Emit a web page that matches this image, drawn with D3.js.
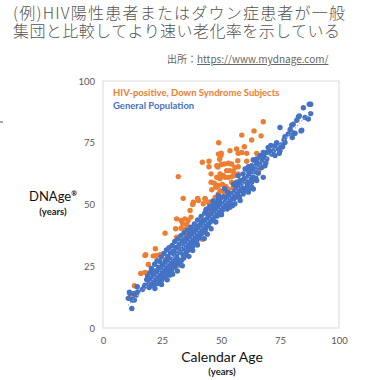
<!DOCTYPE html>
<html>
<head>
<meta charset="utf-8">
<script src="https://cdn.jsdelivr.net/npm/d3@7"></script>
<style>
  body { margin: 0; background: #fff; }
  svg { display: block; }
</style>
</head>
<body>
<div id="chart"></div>
<script>
// Title lines and source note
const titleLines = ["(例)HIV陽性患者またはダウン症患者が一般", "集団と比較してより速い老化率を示している"];
const titleWidths = [332, 327];
const sourceLabel = "出所：";
const sourceUrl = "https://www.mydnage.com/";

// Axis ticks
const xTicks = [0, 25, 50, 75, 100];
const yTicks = [0, 25, 50, 75, 100];

// Series names
const seriesNames = ["HIV-positive, Down Syndrome Subjects", "General Population"];

// [calendar age, DNAge]
const hivDown = [
  [67.9,83.5],[58.8,78.1],[64.0,79.8],[67.0,77.8],[63.0,76.1],[49.0,75.0],[53.8,71.8],[56.6,72.5],[59.9,73.4],
  [48.9,70.4],[50.0,69.8],[57.3,70.7],[58.8,71.1],[60.9,70.7],[65.1,70.7],[50.1,70.8],
  [42.1,67.1],[44.9,67.5],[44.9,65.3],[48.2,65.7],[49.4,68.3],[51.4,66.4],[53.1,66.7],[54.5,66.4],[55.9,65.0],
  [57.3,65.3],[60.9,67.5],[57.1,67.7],[63.7,68.1],[48.7,65.2],[50.1,66.2],
  [52.4,63.7],[53.8,63.7],[55.2,63.4],[49.6,62.4],[51.0,61.7],[45.8,62.4],[64.4,63.7],[66.1,64.0],[62.3,63.0],
  [48.2,61.0],[49.6,60.4],[51.7,61.0],[53.1,61.0],[54.5,61.3],[55.9,61.7],[57.3,62.4],
  [45.8,59.0],[47.2,58.6],[48.9,57.7],[50.6,58.1],[52.0,57.3],[54.5,59.0],[58.8,59.0],
  [49.6,55.6],[51.4,55.0],[53.1,56.3],[55.2,56.7],[56.6,57.7],[46.1,56.0],[47.8,57.0],[55.2,54.0],
  [48.9,54.3],[50.3,52.9],[48.2,50.9],[43.2,52.3],[44.6,50.9],[40.4,51.6],[38.3,50.9],[34.0,52.5],[40.1,52.4],
  [43.3,52.3],[45.3,50.9],[42.5,50.3],[47.5,52.9],[38.0,50.0],
  [36.9,47.6],[37.3,44.9],[36.1,43.5],[43.5,47.6],[43.9,46.9],[44.6,48.0],
  [31.2,44.2],[33.1,43.5],[34.7,44.2],[33.8,42.2],[35.5,41.8],[30.8,40.2],[33.1,40.4],[34.7,39.9],[26.3,38.4],
  [35.5,37.2],[31.2,36.8],[42.5,39.1],[42.1,35.9],[42.9,38.8],[37.6,40.2],
  [22.2,32.1],[17.8,29.4],[18.1,29.7],[21.3,29.2],[22.7,29.4],[24.2,29.7],[27.0,28.3],[19.2,25.7],[31.9,25.4],
  [28.8,24.3],[17.8,22.5],[16.0,22.1],[22.7,18.7],[13.3,17.1],[12.0,12.8],[31.9,61.3]
];

const generalPop = [
  [12.2,7.9],[10.7,12.0],[11.2,14.5],[12.4,11.3],[13.3,11.3],[13.1,14.0],[11.4,14.0],[12.8,11.6],[14.0,13.3],
  [14.7,14.6],[14.5,16.7],[16.7,15.6],[17.5,16.7],[17.8,17.3],[18.5,19.6],[20.2,20.0],[19.5,18.2],[22.0,16.0],
  [23.4,18.7],[24.8,17.6],[20.6,17.3],[21.3,19.4],[22.7,20.7],[23.4,18.0],[24.2,22.1],[24.9,19.4],[25.6,23.4],
  [26.3,20.7],[27.0,24.7],[27.7,22.1],[28.4,26.1],[29.1,23.4],[29.8,27.4],[30.5,24.7],[31.2,28.8],[31.9,26.1],
  [32.6,30.8],[33.3,27.4],[34.0,32.1],[34.7,29.4],[35.5,34.2],[36.1,31.5],[36.9,35.5],[37.6,32.8],[38.3,36.8],
  [39.7,34.8],[39.0,38.8],[41.1,37.5],[40.4,40.9],[42.5,39.5],[41.8,42.9],[44.6,41.5],[43.9,44.2],[46.7,44.2],
  [46.0,45.6],[48.2,47.6],[46.7,49.6],[48.9,52.3],
  [19.8,22.4],[20.5,24.1],[21.2,21.6],[21.9,25.8],[22.4,23.1],[22.9,27.2],[23.6,24.6],[24.1,26.9],[24.7,28.8],
  [25.2,25.4],[25.8,30.2],[26.4,27.3],[26.9,31.6],[27.5,29.0],[28.0,32.5],[28.6,30.4],[29.3,33.4],[29.9,31.2],
  [30.4,35.0],[31.0,32.6],[31.7,36.1],[32.3,33.9],[33.0,37.4],[33.6,35.3],[34.3,38.5],[35.0,36.4],[35.8,39.6],
  [36.5,37.9],[37.2,40.8],[37.9,38.9],[38.7,42.1],[39.4,40.2],[40.1,43.7],[40.9,41.6],[41.6,45.2],[42.3,43.5],
  [43.1,46.5],[43.8,48.1],[44.5,46.0],[45.2,49.3],[45.9,47.8],[46.6,51.4],[47.4,49.0],[48.1,50.6],[48.8,53.7],
  [49.5,50.9],
  [25.1,20.3],[26.0,22.8],[27.2,19.5],[28.1,23.9],[29.5,21.8],[30.2,25.9],[31.5,23.1],[32.1,27.6],[33.6,25.2],
  [34.2,28.3],[35.3,31.0],[36.4,29.0],[37.0,33.9],[38.0,31.4],[38.8,35.2],[40.0,33.6],[40.8,36.4],[41.5,39.0],
  [42.9,36.2],[43.4,40.4],[44.2,38.0],[45.3,42.8],[45.8,40.2],[46.3,43.5],[47.0,45.6],[47.8,42.9],[48.6,46.1],
  [49.3,48.4],[50.2,45.9],
  [18.9,21.0],[19.6,16.4],[20.9,18.6],[21.6,23.0],[22.3,18.0],[23.0,22.6],[23.8,20.4],[24.5,24.2],[25.4,21.9],
  [26.1,25.9],[26.7,23.0],[27.4,27.1],[28.2,21.4],[28.8,27.9],[29.6,25.2],[30.3,29.8],[30.9,27.4],[31.6,30.4],
  [32.4,25.9],[32.9,31.9],[33.9,29.6],[34.5,33.6],[35.1,30.1],[35.7,35.2],[36.2,33.0],[36.8,37.1],[37.5,34.6],
  [38.1,33.2],[38.6,38.0],[39.2,36.4],[39.8,39.4],[40.5,37.3],[41.2,41.0],[41.9,38.3],[42.6,41.9],[43.3,39.2],
  [44.0,42.6],[44.7,44.8],[45.5,43.3],[46.2,46.2],[46.9,48.0],[47.6,47.1],[48.4,45.3],[49.1,49.9],[49.8,52.5],
  [50.5,47.6],[51.2,49.0],[51.9,52.8],[52.6,48.2],[53.4,50.3],[54.1,53.3],[54.9,49.6],[55.6,52.4],[56.4,57.3],
  [57.0,55.1],[57.8,52.8],[58.5,58.4],[59.1,56.6],[59.8,60.5],[60.5,55.9],[61.2,58.3],[62.0,62.6],[62.7,59.9],
  [64.1,63.2],[64.8,60.6],[65.8,62.7],[66.3,66.3],[67.6,67.8],[68.2,69.6],[69.0,66.8],[70.6,71.5],[71.1,73.9],
  [73.6,75.0],[74.7,70.7],
  [48.9,51.6],[48.2,49.6],[50.3,48.9],[49.6,46.9],[51.7,50.9],[53.1,53.6],[54.5,52.3],[55.9,50.3],[53.8,48.9],
  [58.1,51.6],[57.3,57.7],[58.8,56.3],[55.9,55.6],[59.4,54.3],[61.6,55.6],[63.7,56.3],[57.3,53.6],[61.6,55.0],
  [58.8,55.6],[51.0,53.2],[52.2,49.6],[52.8,55.0],[53.9,51.0],[54.7,54.6],[55.3,58.2],[56.2,53.1],[56.9,56.7],
  [50.6,50.0],[51.5,56.4],[52.5,52.1],
  [57.3,61.7],[56.6,59.0],[58.1,57.7],[60.2,59.7],[60.9,57.0],[63.0,57.0],[61.6,63.7],[59.4,62.4],[62.3,61.7],
  [63.7,61.0],[60.2,60.4],[58.1,59.7],[60.9,59.0],[63.0,59.0],[65.1,59.7],[60.2,64.4],[61.6,61.7],[63.0,60.4],
  [67.9,61.0],[61.6,65.3],[63.0,64.4],
  [66.5,69.8],[65.1,67.7],[63.0,65.7],[64.4,64.4],[66.5,65.0],[65.1,68.4],[63.7,68.0],[69.4,68.4],[65.1,66.4],
  [67.2,65.0],[68.6,65.7],[66.9,69.1],[67.9,71.1],[69.4,71.1],[70.0,73.1],[71.5,70.4],[72.9,69.8],[72.9,73.8],
  [74.3,72.5],[72.2,71.8],
  [75.0,81.2],[77.1,75.1],[75.4,74.1],[76.1,73.4],[75.0,71.8],[76.7,76.1],[77.1,77.4],[80.2,77.1],[83.9,79.8],
  [80.0,82.1],[80.6,82.5],[82.1,84.1],[83.2,85.9],[87.0,84.6],[88.0,86.8],[84.9,89.2],[88.0,90.6],[82.8,85.5],
  [80.4,79.2],[84.2,80.1],[81.4,78.8],[78.5,78.6],[79.3,80.4],[85.6,85.2],[87.4,90.6]
];

const width = 376, height = 380;
const orange = "#ED7D31", blue = "#4472C4";
const font = "Lato, 'Open Sans', sans-serif";

const svg = d3.select("#chart").append("svg")
    .attr("width", width)
    .attr("height", height);

// title
svg.selectAll(".title")
    .data(titleLines)
    .enter()
    .append("text")
    .attr("x", 13)
    .attr("y", (d, i) => 18.5 + i * 18)
    .attr("textLength", (d, i) => titleWidths[i])
    .attr("lengthAdjust", "spacing")
    .style("font-family", "'Noto Sans CJK JP', sans-serif")
    .style("font-weight", 300)
    .style("font-size", "16px")
    .attr("fill", "#555")
    .text(d => d);

const src = svg.append("text")
    .attr("x", 167)
    .attr("y", 63)
    .style("font-family", "'Noto Sans CJK JP', sans-serif")
    .style("font-size", "10px")
    .attr("fill", "#666");
src.append("tspan").text(sourceLabel);
src.append("tspan").style("text-decoration", "underline").text(sourceUrl);

// stray mark at the left edge
svg.append("line")
    .attr("x1", 0).attr("x2", 3)
    .attr("y1", 122).attr("y2", 122)
    .attr("stroke", "#555");

// scales
const x = d3.scaleLinear().domain([0, 100]).range([103, 339]);
const y = d3.scaleLinear().domain([0, 100]).range([328, 81]);

// plot frame
svg.append("rect")
    .attr("x", x(0))
    .attr("y", y(100))
    .attr("width", x(100) - x(0))
    .attr("height", y(0) - y(100))
    .attr("fill", "none")
    .attr("stroke", "#d9d9d9");

// axes (labels only)
const xAxis = svg.append("g")
    .attr("transform", `translate(0, ${y(0)})`)
    .call(d3.axisBottom(x).tickValues(xTicks).tickSize(0).tickPadding(9));
const yAxis = svg.append("g")
    .attr("transform", `translate(${x(0)}, 0)`)
    .call(d3.axisLeft(y).tickValues(yTicks).tickSize(0).tickPadding(8));
[xAxis, yAxis].forEach(g => {
    g.select(".domain").remove();
    g.selectAll("text")
        .style("font-family", font)
        .style("font-size", "9.5px")
        .attr("fill", "#595959");
});

// dotted trend line through the general population
const mx = d3.mean(generalPop, d => d[0]);
const my = d3.mean(generalPop, d => d[1]);
const slope = d3.sum(generalPop, d => (d[0] - mx) * (d[1] - my)) / d3.sum(generalPop, d => (d[0] - mx) ** 2);
const icpt = my - slope * mx;
const xr = d3.extent(generalPop, d => d[0]);

// points
svg.append("g")
    .selectAll("circle")
    .data(hivDown)
    .enter()
    .append("circle")
    .attr("cx", d => x(d[0]))
    .attr("cy", d => y(d[1]))
    .attr("r", 2.7)
    .attr("fill", orange);

svg.append("g")
    .selectAll("circle")
    .data(generalPop)
    .enter()
    .append("circle")
    .attr("cx", d => x(d[0]))
    .attr("cy", d => y(d[1]))
    .attr("r", 2.7)
    .attr("fill", blue);

svg.append("line")
    .attr("x1", x(xr[0])).attr("y1", y(icpt + slope * xr[0]))
    .attr("x2", x(xr[1])).attr("y2", y(icpt + slope * xr[1]))
    .attr("stroke", "#8FAADC")
    .attr("stroke-width", 1.2)
    .attr("stroke-dasharray", "1.2,2");

// legend
svg.selectAll(".legend")
    .data(seriesNames)
    .enter()
    .append("text")
    .attr("x", 113)
    .attr("y", (d, i) => 96 + i * 12.5)
    .style("font-family", font)
    .style("font-weight", "bold")
    .style("font-size", "9.5px")
    .attr("fill", (d, i) => i === 0 ? orange : blue)
    .text(d => d);

// axis titles
svg.append("text")
    .attr("x", 222).attr("y", 362)
    .attr("text-anchor", "middle")
    .style("font-family", font)
    .style("font-size", "14px")
    .attr("fill", "#111")
    .text("Calendar Age");
svg.append("text")
    .attr("x", 222).attr("y", 375)
    .attr("text-anchor", "middle")
    .style("font-family", font)
    .style("font-weight", "bold")
    .style("font-size", "9.5px")
    .attr("fill", "#222")
    .text("(years)");

const dn = svg.append("text")
    .attr("x", 53).attr("y", 201)
    .attr("text-anchor", "middle")
    .style("font-family", font)
    .style("font-size", "13px")
    .attr("fill", "#111")
    .text("DNAge");
dn.append("tspan")
    .attr("dy", -5)
    .style("font-size", "7px")
    .style("font-weight", "bold")
    .text("®");
svg.append("text")
    .attr("x", 53).attr("y", 215)
    .attr("text-anchor", "middle")
    .style("font-family", font)
    .style("font-weight", "bold")
    .style("font-size", "9.5px")
    .attr("fill", "#222")
    .text("(years)");
</script>
</body>
</html>
